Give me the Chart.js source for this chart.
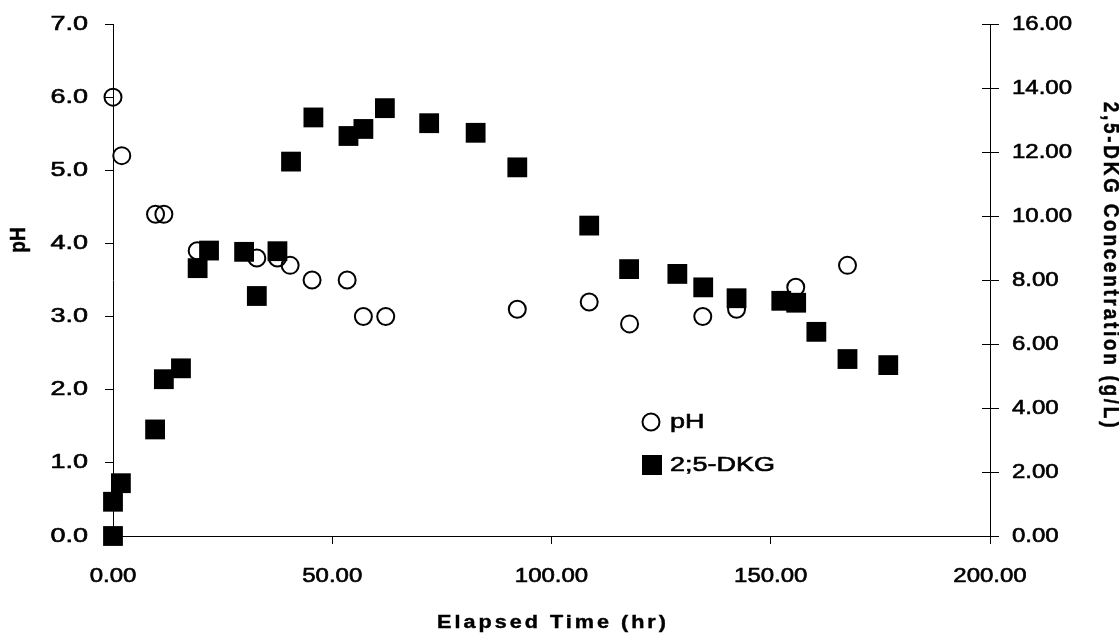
<!DOCTYPE html>
<html>
<head>
<title>pH and 2,5-DKG vs Elapsed Time</title>
<script src="https://cdn.jsdelivr.net/npm/chart.js"></script>
<style>
  body { margin: 0; background: #ffffff; }
  #wrap { width: 1119px; height: 641px; }
</style>
</head>
<body>
<div id="wrap">
  <canvas id="dkgChart" width="1119" height="641"></canvas>
</div>
<script>
// pH readings (left axis)
var phTime  = [0, 2.0, 9.7, 11.6, 19.2, 32.8, 37.5, 40.4, 45.4, 53.4, 57.1, 62.2, 92.2, 108.6, 117.8, 134.5, 142.2, 155.7, 167.5];
var phValue = [6.0, 5.2, 4.4, 4.4, 3.9, 3.8, 3.8, 3.7, 3.5, 3.5, 3.0, 3.0, 3.1, 3.2, 2.9, 3.0, 3.1, 3.4, 3.7];

// 2,5-DKG concentration in g/L (right axis)
var dkgTime = [0, 0, 1.8, 9.6, 11.6, 15.5, 19.3, 21.9, 29.9, 32.8, 37.5, 40.6, 45.7, 53.7, 57.1, 62.0, 72.1, 82.7, 92.2, 108.6, 117.7, 128.7, 134.6, 142.2, 152.4, 155.8, 160.4, 167.5, 176.8];
var dkgConc = [0, 1.07, 1.65, 3.33, 4.90, 5.24, 8.37, 8.92, 8.88, 7.50, 8.90, 11.70, 13.08, 12.50, 12.72, 13.37, 12.90, 12.60, 11.52, 9.70, 8.34, 8.19, 7.77, 7.43, 7.35, 7.29, 6.38, 5.53, 5.34];

var phTicks   = [0, 1, 2, 3, 4, 5, 6, 7];
var dkgTicks  = [0, 2, 4, 6, 8, 10, 12, 14, 16];
var timeTicks = [0, 50, 100, 150, 200];

var FONT = '"Liberation Sans", Arial, sans-serif';

function toPoints(xs, ys) {
    return xs.map(function (x, i) { return { x: x, y: ys[i] }; });
}

// the scanned original has wide, heavy lettering, so text is drawn a bit stretched
function wideText(ctx, txt, x, y, sx, sy, rot, heavy) {
    ctx.save();
    ctx.translate(x, y);
    if (rot) ctx.rotate(rot);
    ctx.scale(sx, sy);
    ctx.fillText(txt, 0, 0);
    if (heavy) {
        ctx.lineWidth = heavy;
        ctx.strokeText(txt, 0, 0);
    }
    ctx.restore();
}

// tick labels, axis titles, legend, inner half of the right-axis ticks
var decor = {
    id: 'decor',
    afterDraw: function (chart) {
        var ctx = chart.ctx;
        var area = chart.chartArea;
        var sx = chart.scales.x, sy = chart.scales.y, sy1 = chart.scales.y1;
        ctx.save();
        ctx.strokeStyle = '#000';
        ctx.lineWidth = 1;
        sy1.ticks.forEach(function (t) {
            var py = Math.round(sy1.getPixelForValue(t.value)) + 0.5;
            ctx.beginPath();
            ctx.moveTo(area.right - 8, py);
            ctx.lineTo(area.right, py);
            ctx.stroke();
        });

        ctx.fillStyle = '#000';
        ctx.textBaseline = 'middle';
        ctx.font = '20px ' + FONT;

        ctx.textAlign = 'right';
        sy.ticks.forEach(function (t) {
            wideText(ctx, t.value.toFixed(1), 88, sy.getPixelForValue(t.value), 1.35, 1, 0, 0.6);
        });
        ctx.textAlign = 'left';
        sy1.ticks.forEach(function (t) {
            wideText(ctx, t.value.toFixed(2), 1012, sy1.getPixelForValue(t.value), 1.2, 1, 0, 0.6);
        });
        ctx.textAlign = 'center';
        sx.ticks.forEach(function (t) {
            wideText(ctx, t.value.toFixed(2), sx.getPixelForValue(t.value), 576, 1.2, 1, 0, 0.6);
        });

        // axis titles
        ctx.font = 'bold 18px ' + FONT;
        ctx.letterSpacing = '2.5px';
        wideText(ctx, 'Elapsed Time (hr)', 553, 623, 1.2, 1, 0, 0.4);

        ctx.letterSpacing = '0px';
        ctx.font = 'bold 19px ' + FONT;
        wideText(ctx, 'pH', 19, 240, 1, 1.2, -Math.PI / 2, 0.4);

        ctx.letterSpacing = '2.7px';
        wideText(ctx, '2,5-DKG Concentration (g/L)', 1110, 266, 1, 1.2, Math.PI / 2, 0.4);

        // legend
        ctx.letterSpacing = '0px';
        ctx.textAlign = 'left';
        ctx.font = '20px ' + FONT;
        ctx.lineWidth = 2;
        ctx.beginPath();
        ctx.arc(651, 422, 8.5, 0, Math.PI * 2);
        ctx.stroke();
        wideText(ctx, chart.data.datasets[0].label, 670, 422, 1.35, 1, 0, 0.6);
        ctx.fillRect(642, 455, 20, 20);
        wideText(ctx, chart.data.datasets[1].label, 670, 465, 1.35, 1, 0, 0.6);
        ctx.restore();
    }
};

new Chart(document.getElementById('dkgChart'), {
    type: 'scatter',
    data: {
        datasets: [
            {
                label: 'pH',
                data: toPoints(phTime, phValue),
                yAxisID: 'y',
                pointStyle: 'circle',
                pointRadius: 8.5,
                pointBorderWidth: 2,
                borderColor: '#000',
                backgroundColor: 'rgba(0,0,0,0)',
                clip: false,
                order: 2
            },
            {
                label: '2;5-DKG',
                data: toPoints(dkgTime, dkgConc),
                yAxisID: 'y1',
                pointStyle: 'rect',
                pointRadius: 14,
                pointBorderWidth: 0,
                borderColor: '#000',
                backgroundColor: '#000',
                clip: false,
                order: 1
            }
        ]
    },
    options: {
        responsive: false,
        animation: false,
        layout: { padding: { top: 24, left: 0, right: 0, bottom: 0 } },
        plugins: {
            legend: { display: false },
            tooltip: { enabled: false }
        },
        scales: {
            x: {
                type: 'linear',
                min: 0,
                max: 200,
                afterFit: function (s) { s.height = 105; },
                afterBuildTicks: function (s) { s.ticks = timeTicks.map(function (v) { return { value: v }; }); },
                ticks: { display: false },
                grid: { drawOnChartArea: false, tickLength: 8, color: '#000' },
                border: { color: '#000', width: 1 }
            },
            y: {
                position: 'left',
                min: 0,
                max: 7,
                afterFit: function (s) { s.width = 113; },
                afterBuildTicks: function (s) { s.ticks = phTicks.map(function (v) { return { value: v }; }); },
                ticks: { display: false },
                grid: { drawOnChartArea: false, tickLength: 8, color: '#000' },
                border: { color: '#000', width: 1 }
            },
            y1: {
                position: 'right',
                min: 0,
                max: 16,
                afterFit: function (s) { s.width = 129; },
                afterBuildTicks: function (s) { s.ticks = dkgTicks.map(function (v) { return { value: v }; }); },
                ticks: { display: false },
                grid: { drawOnChartArea: false, tickLength: 9, color: '#000' },
                border: { color: '#000', width: 1 }
            }
        }
    },
    plugins: [decor]
});
</script>
</body>
</html>
